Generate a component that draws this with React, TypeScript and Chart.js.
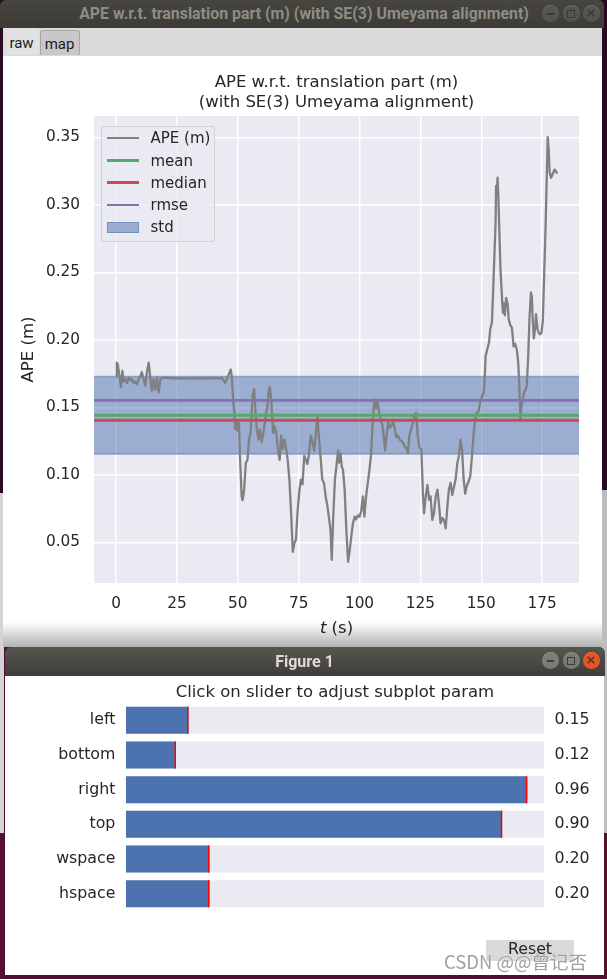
import React, { useEffect, useRef } from "react";
import { Chart, registerables } from "chart.js";

Chart.register(...registerables);

const FONT = '"DejaVu Sans", sans-serif';
const TEXT_COLOR = "#262626";

// ---------- APE chart data ----------
const T_SECONDS = [
  0, 0.3, 0.7, 1.4, 2.0, 2.6, 3.1, 3.8, 4.5, 5.2,
  5.9, 6.5, 7.2, 7.9, 8.6, 9.3, 10.0, 10.6, 11.3, 12.0,
  12.7, 13.4, 14.1, 14.7, 15.4, 16.1, 16.8, 17.5, 18.2, 19.5,
  24.0, 30.0, 36.0, 42.7, 43.4, 44.1, 44.8, 45.5, 46.2, 47.1,
  47.5, 48.2, 48.6, 48.9, 49.6, 50.0, 50.5, 50.9, 51.6, 52.0,
  52.6, 53.3, 54.0, 54.6, 55.3, 55.7, 56.1, 56.7, 57.2, 57.8,
  58.5, 59.1, 59.8, 60.5, 61.5, 62.2, 62.8, 63.2, 63.8, 64.5,
  65.1, 65.8, 66.5, 67.2, 67.8, 68.5, 69.2, 69.9, 70.5, 71.2,
  71.9, 72.6, 73.2, 73.9, 74.6, 75.3, 75.9, 76.6, 77.3, 78.0,
  78.6, 79.3, 80.0, 80.7, 81.4, 82.0, 82.7, 83.4, 84.1, 84.7,
  85.4, 86.1, 86.8, 87.4, 88.1, 88.6, 89.2, 89.9, 90.5, 91.2,
  91.6, 92.2, 92.7, 93.2, 93.9, 94.6, 95.3, 95.9, 96.6, 97.3,
  98.0, 98.6, 99.3, 100.0, 100.7, 101.4, 102.0, 102.7, 103.4, 104.1,
  104.7, 105.4, 106.1, 106.8, 107.4, 108.1, 108.8, 109.5, 110.1, 110.5,
  111.1, 111.8, 112.4, 113.1, 113.8, 114.5, 115.1, 115.8, 116.5, 117.2,
  117.8, 118.5, 119.2, 119.9, 120.5, 121.2, 121.9, 122.6, 123.2, 123.9,
  124.6, 125.4, 126.1, 126.5, 127.2, 127.9, 128.6, 129.2, 129.9, 130.6,
  131.3, 132.0, 132.6, 133.3, 134.0, 134.7, 135.4, 136.1, 136.7, 137.4,
  138.1, 138.8, 139.5, 140.2, 140.8, 141.5, 142.1, 142.8, 143.4, 144.1,
  144.8, 145.5, 146.2, 146.9, 147.5, 148.2, 148.9, 149.6, 150.3, 151.0,
  151.4, 151.8, 152.5, 153.2, 153.7, 154.4, 154.8, 155.3, 155.9, 156.1,
  156.4, 156.7, 157.1, 157.5, 157.9, 158.5, 158.9, 159.3, 159.7, 160.2,
  160.8, 161.3, 161.9, 162.6, 163.3, 163.9, 164.6, 165.2, 165.7, 166.1,
  166.5, 167.1, 167.6, 168.2, 168.7, 169.3, 169.8, 170.4, 170.8, 171.2,
  171.6, 172.1, 172.5, 173.1, 173.6, 174.2, 174.7, 175.3, 175.8, 176.4,
  176.9, 177.3, 177.7, 178.1, 178.7, 179.4, 180.1, 180.7, 181.1,
];

const APE_VALUES = [
  0.173, 0.183, 0.182, 0.173, 0.165, 0.177, 0.169, 0.171, 0.168, 0.172,
  0.170, 0.171, 0.168, 0.169, 0.167, 0.171, 0.173, 0.176, 0.171, 0.166,
  0.176, 0.183, 0.171, 0.162, 0.171, 0.163, 0.172, 0.161, 0.171, 0.172,
  0.1715, 0.1714, 0.1716, 0.1715, 0.172, 0.170, 0.168, 0.171, 0.174, 0.178,
  0.173, 0.1535, 0.146, 0.1336, 0.1386, 0.1324, 0.1386, 0.1137, 0.0838, 0.0813,
  0.0888, 0.1087, 0.1112, 0.1261, 0.1311, 0.146, 0.1585, 0.1634, 0.1485, 0.1336,
  0.1261, 0.1336, 0.124, 0.131, 0.144, 0.151, 0.164, 0.165, 0.154, 0.131,
  0.136, 0.131, 0.119, 0.111, 0.129, 0.119, 0.126, 0.119, 0.111, 0.0965,
  0.0716, 0.043, 0.049, 0.052, 0.074, 0.088, 0.0965, 0.093, 0.114, 0.111,
  0.108, 0.116, 0.129, 0.124, 0.118, 0.129, 0.144, 0.126, 0.111, 0.0965,
  0.094, 0.084, 0.077, 0.069, 0.059, 0.037, 0.069, 0.0965, 0.106, 0.118,
  0.109, 0.116, 0.106, 0.104, 0.089, 0.059, 0.0356, 0.043, 0.054, 0.064,
  0.069, 0.067, 0.070, 0.069, 0.073, 0.084, 0.069, 0.084, 0.094, 0.104,
  0.114, 0.139, 0.156, 0.149, 0.155, 0.146, 0.141, 0.136, 0.126, 0.118,
  0.129, 0.139, 0.135, 0.136, 0.140, 0.134, 0.128, 0.129, 0.126, 0.125,
  0.124, 0.121, 0.120, 0.116, 0.129, 0.134, 0.138, 0.144, 0.146, 0.129,
  0.120, 0.119, 0.084, 0.0715, 0.084, 0.0926, 0.0814, 0.084, 0.0666, 0.0715,
  0.084, 0.089, 0.079, 0.064, 0.068, 0.0666, 0.0604, 0.0765, 0.089, 0.094,
  0.085, 0.091, 0.097, 0.109, 0.114, 0.126, 0.119, 0.096, 0.086, 0.092,
  0.095, 0.099, 0.114, 0.131, 0.141, 0.146, 0.147, 0.154, 0.158, 0.161,
  0.170, 0.188, 0.193, 0.198, 0.208, 0.213, 0.232, 0.257, 0.287, 0.314,
  0.307, 0.320, 0.302, 0.277, 0.252, 0.232, 0.220, 0.227, 0.218, 0.231,
  0.227, 0.215, 0.211, 0.209, 0.195, 0.197, 0.193, 0.183, 0.163, 0.141,
  0.151, 0.156, 0.161, 0.163, 0.166, 0.188, 0.215, 0.235, 0.232, 0.213,
  0.201, 0.208, 0.219, 0.208, 0.205, 0.204, 0.205, 0.214, 0.245, 0.282,
  0.319, 0.350, 0.341, 0.324, 0.320, 0.323, 0.326, 0.325, 0.323,
];

const APE_LABEL = "APE (m)";
const APE_COLOR = "#808080";
const STAT_LABELS = ["mean", "median", "rmse"];
const STAT_VALUES = [0.1441, 0.1404, 0.1551];
const STAT_COLORS = ["#55a868", "#c44e52", "#8172b2"];
const STD_LABEL = "std";
const STD_VALUE = 0.0573;
const STD_COLOR = "rgba(76,114,176,0.5)";

const X_TICKS = [0, 25, 50, 75, 100, 125, 150, 175];
const Y_TICKS = [0.05, 0.1, 0.15, 0.2, 0.25, 0.3, 0.35];
const TITLE_LINES = ["APE w.r.t. translation part (m)", "(with SE(3) Umeyama alignment)"];
const Y_TITLE = "APE (m)";
const X_TITLE_VAR = "t";
const X_TITLE_UNIT = " (s)";

// ---------- Subplot tool sliders ----------
const SLIDER_TITLE = "Click on slider to adjust subplot param";
const SLIDER_LABELS = ["left", "bottom", "right", "top", "wspace", "hspace"];
const SLIDER_VALUES = [0.15, 0.12, 0.96, 0.9, 0.2, 0.2];
const SLIDER_MIN = 0;
const SLIDER_MAX = 1;

const WINDOW_TITLE = "APE w.r.t. translation part (m) (with SE(3) Umeyama alignment)";
const TABS = ["raw", "map"];
const FIG_TITLE = "Figure 1";

function apeConfig(): any {
  const tMin = Math.min(...T_SECONDS);
  const tMax = Math.max(...T_SECONDS);
  const vMin = Math.min(...APE_VALUES);
  const vMax = Math.max(...APE_VALUES);
  const xPad = (tMax - tMin) * 0.05;
  const yPad = (vMax - vMin) * 0.05;
  const X_MIN = tMin - xPad;
  const X_MAX = tMax + xPad;
  const Y_MIN = vMin - yPad;
  const Y_MAX = vMax + yPad;
  const hline = (v: number) => [
    { x: X_MIN, y: v },
    { x: X_MAX, y: v },
  ];
  const mean = STAT_VALUES[0];

  const bgPlugin = {
    id: "axbg",
    beforeDraw(chart: any) {
      const { ctx, chartArea } = chart;
      ctx.save();
      ctx.fillStyle = "#eaeaf2";
      ctx.fillRect(chartArea.left, chartArea.top, chartArea.width, chartArea.height);
      ctx.restore();
    },
  };
  const xLabelPlugin = {
    id: "xlabel",
    afterDraw(chart: any) {
      const { ctx, chartArea } = chart;
      const cx = (chartArea.left + chartArea.right) / 2;
      const y = chartArea.bottom + 45.3;
      ctx.save();
      const italic = `italic 16.5px ${FONT}`;
      const normal = `16.5px ${FONT}`;
      ctx.font = italic;
      const w1 = ctx.measureText(X_TITLE_VAR).width;
      ctx.font = normal;
      const w2 = ctx.measureText(X_TITLE_UNIT).width;
      const x0 = cx - (w1 + w2) / 2;
      ctx.fillStyle = TEXT_COLOR;
      ctx.textBaseline = "middle";
      ctx.textAlign = "left";
      ctx.font = italic;
      ctx.fillText(X_TITLE_VAR, x0, y);
      ctx.font = normal;
      ctx.fillText(X_TITLE_UNIT, x0 + w1, y);
      ctx.restore();
    },
  };

  const datasets: any[] = STAT_LABELS.map((label, i) => ({
    label,
    data: hline(STAT_VALUES[i]),
    borderColor: STAT_COLORS[i],
    borderWidth: 2.8,
    pointRadius: 0,
    fill: false,
    order: STAT_LABELS.length - 1 - i,
  }));
  datasets.push({
    label: APE_LABEL,
    data: T_SECONDS.map((t, i) => ({ x: t, y: APE_VALUES[i] })),
    borderColor: APE_COLOR,
    borderWidth: 2.3,
    borderJoinStyle: "round",
    pointRadius: 0,
    fill: false,
    order: 3,
  });
  datasets.push({
    label: STD_LABEL,
    data: hline(mean + STD_VALUE / 2),
    borderColor: STD_COLOR,
    backgroundColor: STD_COLOR,
    borderWidth: 1.4,
    pointRadius: 0,
    fill: "+1",
    order: 4,
  });
  datasets.push({
    label: STD_LABEL + "_low",
    data: hline(mean - STD_VALUE / 2),
    borderColor: STD_COLOR,
    borderWidth: 1.4,
    pointRadius: 0,
    fill: false,
    order: 5,
  });

  return {
    type: "line",
    data: { datasets },
    plugins: [bgPlugin, xLabelPlugin],
    options: {
      animation: false,
      responsive: false,
      devicePixelRatio: 1,
      events: [],
      layout: { padding: { left: 0, right: 23, top: 0, bottom: 0 } },
      plugins: {
        legend: { display: false },
        tooltip: { enabled: false },
        title: {
          display: true,
          fullSize: false,
          text: TITLE_LINES,
          color: TEXT_COLOR,
          font: { family: FONT, size: 16.5, weight: "normal", lineHeight: 20 / 16.5 },
          padding: { top: 17, bottom: 3 },
        },
      },
      scales: {
        x: {
          type: "linear",
          min: X_MIN,
          max: X_MAX,
          afterBuildTicks: (s: any) => {
            s.ticks = X_TICKS.map((value) => ({ value }));
          },
          afterFit: (s: any) => {
            s.height = 64;
          },
          grid: { color: "#ffffff", lineWidth: 1.4, drawTicks: false },
          border: { display: false },
          ticks: {
            color: TEXT_COLOR,
            font: { family: FONT, size: 15.3 },
            padding: 12,
            maxRotation: 0,
            autoSkip: false,
            callback: (v: any) => String(v),
          },
        },
        y: {
          type: "linear",
          min: Y_MIN,
          max: Y_MAX,
          afterBuildTicks: (s: any) => {
            s.ticks = Y_TICKS.map((value) => ({ value }));
          },
          afterFit: (s: any) => {
            s.width = 91;
          },
          grid: { color: "#ffffff", lineWidth: 1.4, drawTicks: false },
          border: { display: false },
          ticks: {
            color: TEXT_COLOR,
            font: { family: FONT, size: 15.3 },
            padding: 14,
            autoSkip: false,
            callback: (v: any) => Number(v).toFixed(2),
          },
          title: {
            display: true,
            text: Y_TITLE,
            color: TEXT_COLOR,
            font: { family: FONT, size: 16.5 },
            padding: { top: 16, bottom: 0 },
          },
        },
      },
    },
  };
}

function sliderConfig(): any {
  const common = {
    grouped: false,
    barPercentage: 0.78,
    categoryPercentage: 1,
    borderWidth: 0,
    borderSkipped: false,
  };
  return {
    type: "bar",
    data: {
      labels: SLIDER_LABELS,
      datasets: [
        {
          ...common,
          label: "init",
          data: SLIDER_VALUES.map((v) => [v - 0.0035, v]),
          backgroundColor: "#ff0000",
          order: 0,
        },
        {
          ...common,
          label: "value",
          data: SLIDER_VALUES.map((v) => [SLIDER_MIN, v]),
          backgroundColor: "#4c72b0",
          order: 1,
        },
        {
          ...common,
          label: "range",
          data: SLIDER_VALUES.map(() => [SLIDER_MIN, SLIDER_MAX]),
          backgroundColor: "#eaeaf2",
          order: 2,
        },
      ],
    },
    options: {
      animation: false,
      responsive: false,
      devicePixelRatio: 1,
      events: [],
      indexAxis: "y",
      layout: { padding: { left: 0, right: 0, top: 0, bottom: 64 } },
      plugins: {
        legend: { display: false },
        tooltip: { enabled: false },
        title: {
          display: true,
          fullSize: false,
          text: SLIDER_TITLE,
          color: TEXT_COLOR,
          font: { family: FONT, size: 16.5, weight: "normal", lineHeight: 1.2 },
          padding: { top: 6.8, bottom: 0.4 },
        },
      },
      scales: {
        x: { type: "linear", display: false, min: SLIDER_MIN, max: SLIDER_MAX },
        y: {
          type: "category",
          position: "left",
          grid: { display: false, drawTicks: false },
          border: { display: false },
          ticks: { color: TEXT_COLOR, font: { family: FONT, size: 15.8 }, padding: 10.4, autoSkip: false },
          afterFit: (s: any) => {
            s.width = 120.8;
          },
        },
        yR: {
          type: "category",
          axis: "y",
          position: "right",
          offset: true,
          labels: SLIDER_VALUES.map((v) => v.toFixed(2)),
          grid: { display: false, drawTicks: false },
          border: { display: false },
          ticks: { color: TEXT_COLOR, font: { family: FONT, size: 15.8 }, padding: 10.4, autoSkip: false },
          afterFit: (s: any) => {
            s.width = 60;
          },
        },
      },
    },
  };
}

function WinButtons({ active }: { active: boolean }) {
  const centers = [550, 571, 591];
  const base = active ? "#7d7b75" : "#55544f";
  const sym = active ? "#3c3b37" : "#3a3935";
  return (
    <>
      {centers.map((cx, i) => {
        const isClose = i === 2;
        const bg = isClose && active ? "#e9541f" : base;
        return (
          <div
            key={i}
            style={{
              position: "absolute",
              left: cx - 8.5,
              top: 5,
              width: 17,
              height: 17,
              borderRadius: "50%",
              background: bg,
              boxShadow: "inset 0 1px 1px rgba(255,255,255,0.15)",
            }}
          >
            {i === 0 && (
              <div style={{ position: "absolute", left: 5, top: 8, width: 7, height: 1.5, background: sym }} />
            )}
            {i === 1 && (
              <div
                style={{
                  position: "absolute",
                  left: 4.5,
                  top: 4.5,
                  width: 6,
                  height: 6,
                  border: `1.5px solid ${sym}`,
                }}
              />
            )}
            {i === 2 && (
              <div
                style={{
                  position: "absolute",
                  left: 0,
                  top: 0,
                  width: 17,
                  height: 17,
                  lineHeight: "16px",
                  textAlign: "center",
                  fontFamily: FONT,
                  fontSize: 13,
                  fontWeight: "bold",
                  color: active ? "#3c3b37" : sym,
                }}
              >
                ×
              </div>
            )}
          </div>
        );
      })}
    </>
  );
}

function Legend() {
  const items = [
    { label: APE_LABEL, color: APE_COLOR, kind: "line", w: 2.2 },
    ...STAT_LABELS.map((l, i) => ({ label: l, color: STAT_COLORS[i], kind: "line", w: 2.8 })),
    { label: STD_LABEL, color: STD_COLOR, kind: "patch", w: 0 },
  ];
  return (
    <div
      style={{
        position: "absolute",
        left: 101,
        top: 126,
        width: 114,
        height: 116,
        background: "rgba(234,234,242,0.8)",
        border: "1px solid rgba(204,204,204,0.8)",
        borderRadius: 4,
        boxSizing: "border-box",
      }}
    >
      {items.map((it, i) => {
        const cy = 11.2 + i * 22.3;
        return (
          <React.Fragment key={i}>
            {it.kind === "line" ? (
              <div
                style={{
                  position: "absolute",
                  left: 4.5,
                  top: cy - it.w / 2,
                  width: 32,
                  height: it.w,
                  background: it.color,
                }}
              />
            ) : (
              <div
                style={{
                  position: "absolute",
                  left: 4.5,
                  top: cy - 5.5,
                  width: 32,
                  height: 11,
                  background: it.color,
                  border: `1px solid ${it.color}`,
                  boxSizing: "border-box",
                }}
              />
            )}
            <div
              style={{
                position: "absolute",
                left: 48.5,
                top: cy - 10,
                height: 20,
                lineHeight: "20px",
                fontFamily: FONT,
                fontSize: 15,
                color: TEXT_COLOR,
                whiteSpace: "nowrap",
              }}
            >
              {it.label}
            </div>
          </React.Fragment>
        );
      })}
    </div>
  );
}

export default function App() {
  const apeRef = useRef<HTMLCanvasElement>(null);
  const sliderRef = useRef<HTMLCanvasElement>(null);

  useEffect(() => {
    const c1 = new Chart(apeRef.current as HTMLCanvasElement, apeConfig());
    const c2 = new Chart(sliderRef.current as HTMLCanvasElement, sliderConfig());
    return () => {
      c1.destroy();
      c2.destroy();
    };
  }, []);

  const abs = (s: React.CSSProperties): React.CSSProperties => ({ position: "absolute", ...s });

  return (
    <div
      style={{
        position: "fixed",
        left: 0,
        top: 0,
        width: 607,
        height: 979,
        overflow: "hidden",
        background: "#4f0d31",
      }}
    >
      {/* desktop strips */}
      <div
        style={abs({
          left: 0,
          top: 0,
          width: 4,
          height: 979,
          background:
            "linear-gradient(to bottom, #2a0a20 0px, #2a0a20 493px, #d4d4d4 493px, #d4d4d4 833px, #55102f 833px)",
        })}
      />
      <div
        style={abs({
          left: 601,
          top: 0,
          width: 6,
          height: 979,
          background:
            "linear-gradient(to bottom, #2a0a20 0px, #2a0a20 490px, #bdbdbd 490px, #bdbdbd 833px, #55102f 833px)",
        })}
      />

      {/* top window title bar */}
      <div
        style={abs({
          left: 0,
          top: 0,
          width: 604,
          height: 28,
          background: "linear-gradient(#46453f, #3c3b37)",
          borderRadius: "6px 6px 0 0",
        })}
      >
        <div
          style={abs({
            left: 0,
            top: 0,
            width: 608,
            height: 28,
            lineHeight: "27px",
            textAlign: "center",
            color: "#8e8c86",
            fontFamily: "Roboto, sans-serif",
            fontWeight: "bold",
            fontSize: 15.9,
            whiteSpace: "nowrap",
          })}
        >
          {WINDOW_TITLE}
        </div>
        <WinButtons active={false} />
      </div>

      {/* tab bar */}
      <div style={abs({ left: 3, top: 28, width: 599, height: 28, background: "#dadada" })} />
      {TABS.map((tab, i) => {
        const selected = i === 0;
        const left = i === 0 ? 4 : 39.5;
        const width = i === 0 ? 35 : 40;
        return (
          <div
            key={tab}
            style={abs({
              left,
              top: selected ? 28 : 30,
              width,
              height: selected ? 27 : 25,
              background: selected ? "#e1e1e1" : "#c8c8c8",
              border: selected ? "none" : "1px solid #a6a6a6",
              borderBottom: "none",
              borderRadius: "3px 3px 0 0",
              boxSizing: "border-box",
              textAlign: "center",
              lineHeight: selected ? "31px" : "27px",
              fontFamily: "Roboto, sans-serif",
              fontSize: 15,
              color: "#1a1a1a",
            })}
          >
            {tab}
          </div>
        );
      })}

      {/* chart canvas area */}
      <div style={abs({ left: 3, top: 56, width: 599, height: 591, background: "#ffffff" })}>
        <canvas ref={apeRef} width={599} height={591} style={{ display: "block", width: 599, height: 591 }} />
      </div>
      <Legend />

      {/* shadow of the lower window */}
      <div
        style={abs({
          left: 3,
          top: 622,
          width: 599,
          height: 25,
          background: "linear-gradient(to bottom, rgba(0,0,0,0), rgba(0,0,0,0.3))",
        })}
      />

      {/* Figure 1 window */}
      <div
        style={abs({
          left: 5,
          top: 647,
          width: 600,
          height: 29,
          background: "linear-gradient(#57554f, #3e3d39)",
          borderRadius: "6px 6px 0 0",
        })}
      >
        <div
          style={abs({
            left: 0,
            top: 0,
            width: 599,
            height: 29,
            lineHeight: "29px",
            textAlign: "center",
            color: "#dfdbd2",
            fontFamily: "Roboto, sans-serif",
            fontWeight: "bold",
            fontSize: 16,
          })}
        >
          {FIG_TITLE}
        </div>
        <div style={abs({ left: -5, top: 0, width: 0, height: 0 })}>
          <WinButtons active={true} />
        </div>
      </div>
      <div style={abs({ left: 5, top: 676, width: 599, height: 299, background: "#ffffff" })}>
        <canvas ref={sliderRef} width={599} height={299} style={{ display: "block", width: 599, height: 299 }} />
      </div>

      {/* Reset button */}
      <div
        style={abs({
          left: 486,
          top: 940,
          width: 88,
          height: 21,
          background: "#d9d9d9",
          textAlign: "center",
          lineHeight: "17px",
          fontFamily: FONT,
          fontSize: 15.8,
          color: TEXT_COLOR,
          overflow: "visible",
        })}
      >
        Reset
      </div>
      {/* watermark */}
      <div
        style={abs({
          left: 444,
          top: 949,
          height: 24,
          lineHeight: "24px",
          fontFamily: '"Noto Sans CJK SC", "Noto Sans", sans-serif',
          fontSize: 18.5,
          color: "rgba(150,150,150,0.9)",
          whiteSpace: "nowrap",
          textShadow: "0 0 1px rgba(255,255,255,0.8)",
        })}
      >
        CSDN @@曾记否
      </div>
    </div>
  );
}
